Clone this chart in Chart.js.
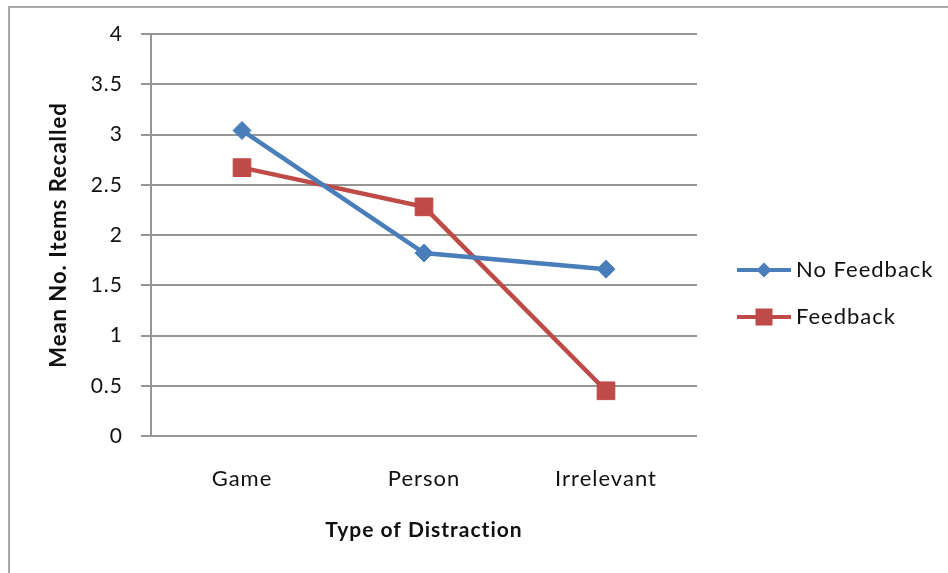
<!DOCTYPE html>
<html>
<head>
<meta charset="utf-8">
<script src="https://cdn.jsdelivr.net/npm/chart.js@4/dist/chart.umd.min.js"></script>
<style>
  html, body { margin: 0; padding: 0; background: #fff; overflow: hidden; }
  #wrap { position: relative; width: 948px; height: 573px; }
  #frame { position: absolute; left: 8px; top: 6px; width: 960px; height: 600px;
           border-top: 2px solid #a9a9a9; border-left: 2px solid #a9a9a9; box-sizing: border-box; }
  canvas { position: absolute; left: 0; top: 0; }
</style>
</head>
<body>
<div id="wrap">
  <div id="frame"></div>
  <canvas id="c" width="948" height="573"></canvas>
</div>
<script>
// Mean number of items recalled by type of distraction
const categories = ['Game', 'Person', 'Irrelevant'];
const noFeedback = [3.04, 1.82, 1.66];
const feedback = [2.67, 2.28, 0.45];
const yTicks = [0, 0.5, 1, 1.5, 2, 2.5, 3, 3.5, 4];

const BLUE = '#4a7ebb';
const RED = '#be4b48';
const GRID = '#959595';
const FONT = 'Lato, "Open Sans", sans-serif';

// Slightly open letter spacing for all chart text
const spacing = {
  id: 'spacing',
  beforeLayout(chart) { chart.ctx.letterSpacing = '1px'; },
  beforeDraw(chart) { chart.ctx.letterSpacing = '1px'; }
};

// Legend to the right of the plot: a line sample with the series marker, then the label
const sideLegend = {
  id: 'sideLegend',
  afterDraw(chart) {
    const ctx = chart.ctx;
    const x0 = chart.chartArea.right + 40, x1 = x0 + 54, cx = (x0 + x1) / 2;
    const top = 270, step = 47;
    chart.data.datasets.forEach((ds, i) => {
      const y = top + i * step;
      ctx.save();
      ctx.strokeStyle = ds.borderColor;
      ctx.lineWidth = 4;
      ctx.beginPath(); ctx.moveTo(x0, y); ctx.lineTo(x1, y); ctx.stroke();
      ctx.fillStyle = ds.backgroundColor;
      ctx.beginPath();
      if (ds.pointStyle === 'rectRot') {
        ctx.moveTo(cx - 7.5, y); ctx.lineTo(cx, y - 7.5); ctx.lineTo(cx + 7.5, y); ctx.lineTo(cx, y + 7.5);
      } else {
        ctx.rect(cx - 8.5, y - 8.5, 17, 17);
      }
      ctx.closePath(); ctx.fill();
      ctx.letterSpacing = '1px';
      ctx.font = '22px ' + FONT;
      ctx.fillStyle = '#111';
      ctx.textAlign = 'left';
      ctx.textBaseline = 'middle';
      ctx.fillText(ds.label, x1 + 5, y);
      ctx.restore();
    });
  }
};

new Chart(document.getElementById('c'), {
  type: 'line',
  data: {
    labels: categories,
    datasets: [
      { label: 'No Feedback', data: noFeedback, borderColor: BLUE, backgroundColor: BLUE,
        borderWidth: 4.5, pointStyle: 'rectRot', pointRadius: 9, pointBorderWidth: 1,
        pointHoverRadius: 9, tension: 0 },
      { label: 'Feedback', data: feedback, borderColor: RED, backgroundColor: RED,
        borderWidth: 4.5, pointStyle: 'rect', pointRadius: 12.5, pointBorderWidth: 1,
        pointHoverRadius: 12.5, tension: 0 }
    ]
  },
  plugins: [spacing, sideLegend],
  options: {
    responsive: false,
    animation: false,
    events: [],
    layout: { padding: { left: 46, top: 34, bottom: 20, right: 251 } },
    plugins: {
      tooltip: { enabled: false },
      legend: { display: false }
    },
    scales: {
      x: {
        offset: true,
        grid: { display: false, drawTicks: false },
        border: { display: false },
        ticks: { color: '#111', padding: 30, font: { family: FONT, size: 22 } },
        title: { display: true, text: 'Type of Distraction', color: '#111',
                 font: { family: FONT, size: 21, weight: 'bold' }, padding: { top: 0, bottom: 10 } },
        afterFit: (s) => { s.height = 117; }
      },
      y: {
        min: 0, max: 4,
        afterBuildTicks: (s) => { s.ticks = yTicks.map(v => ({ value: v })); },
        grid: { color: GRID, lineWidth: 2, tickLength: 10, drawTicks: true },
        border: { display: true, color: GRID, width: 2 },
        ticks: { color: '#111', padding: 18, font: { family: FONT, size: 21 },
                 callback: (v) => String(v) },
        title: { display: true, text: 'Mean No. Items Recalled', color: '#111',
                 font: { family: FONT, size: 22, weight: 'bold' }, padding: 0 },
        afterFit: (s) => { s.width = 105; }
      }
    }
  }
});
</script>
</body>
</html>
